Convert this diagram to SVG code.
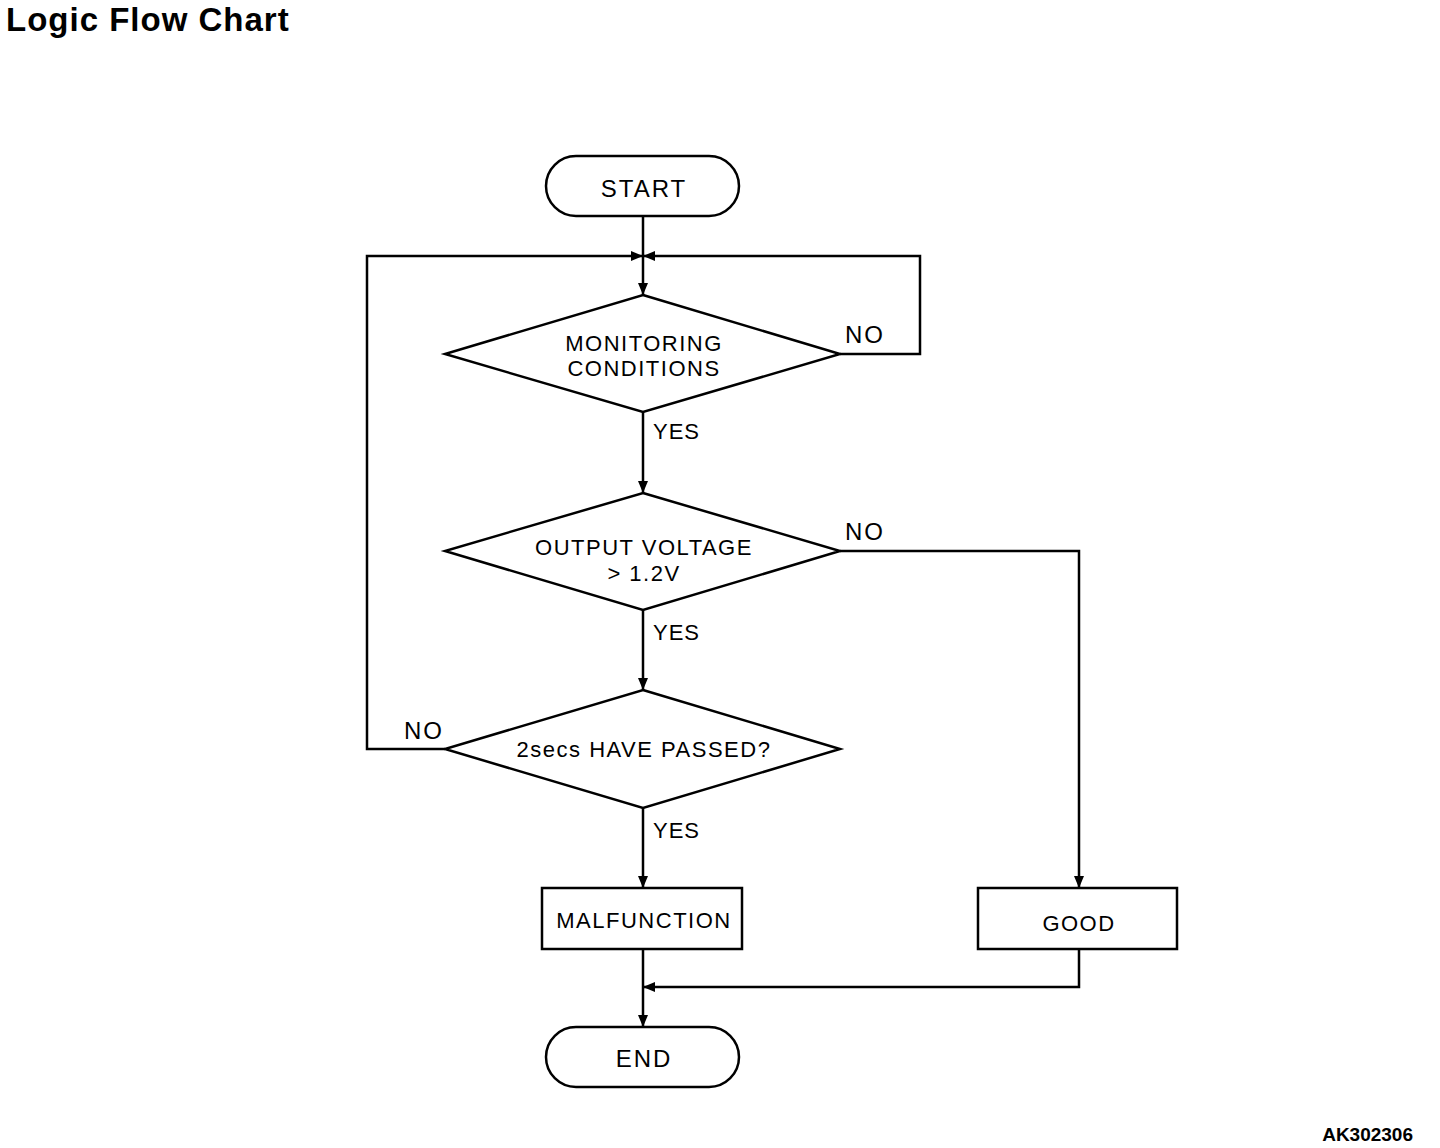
<svg xmlns="http://www.w3.org/2000/svg" width="1440" height="1148" viewBox="0 0 1440 1148">
<style>
.s{fill:#fff;stroke:#000;stroke-width:2.5}
.c{fill:none;stroke:#000;stroke-width:2.5}
text{font-family:"Liberation Sans",Arial,sans-serif;fill:#000}
.t{font-size:24px;letter-spacing:2px;text-anchor:middle}
.d{font-size:22px;letter-spacing:1.5px;text-anchor:middle}
.y{font-size:22px;letter-spacing:1px}
.n{font-size:24px;letter-spacing:2px}
</style>
<defs>
<marker id="a" viewBox="0 0 12 10" refX="12" refY="5" markerWidth="12" markerHeight="10" markerUnits="userSpaceOnUse" orient="auto">
<path d="M0,0 L12,5 L0,10 Z" fill="#000"/>
</marker>
</defs>
<rect width="1440" height="1148" fill="#fff"/>
<text x="6" y="31" style="font-size:33px;font-weight:bold;letter-spacing:1px">Logic Flow Chart</text>
<text x="1413" y="1141" style="font-size:19px;font-weight:bold;text-anchor:end">AK302306</text>
<g id="connectors">
<path class="c" d="M643,216 V256"/>
<path class="c" d="M643,256 V295" marker-end="url(#a)"/>
<path class="c" d="M840,354 H920 V256 H643" marker-end="url(#a)"/>
<path class="c" d="M445,749 H367 V256 H643" marker-end="url(#a)"/>
<path class="c" d="M643,412 V493" marker-end="url(#a)"/>
<path class="c" d="M643,610 V690" marker-end="url(#a)"/>
<path class="c" d="M643,808 V888" marker-end="url(#a)"/>
<path class="c" d="M840,551 H1079 V888" marker-end="url(#a)"/>
<path class="c" d="M1079,949 V987 H643" marker-end="url(#a)"/>
<path class="c" d="M643,949 V1027" marker-end="url(#a)"/>
<text class="y" x="653" y="439">YES</text>
<text class="y" x="653" y="640">YES</text>
<text class="y" x="653" y="838">YES</text>
<text class="n" x="845" y="343">NO</text>
<text class="n" x="845" y="540">NO</text>
<text class="n" x="404" y="739">NO</text>
</g>
<g id="start">
<rect class="s" x="546" y="156" width="193" height="60" rx="30"/>
<text class="t" x="644" y="197">START</text>
</g>
<g id="monitoring">
<polygon class="s" points="643,295 840,354 643,412 445,354"/>
<text class="d" x="644" y="351">MONITORING</text>
<text class="d" x="644" y="376">CONDITIONS</text>
</g>
<g id="voltage">
<polygon class="s" points="643,493 840,551 643,610 445,551"/>
<text class="d" x="644" y="555">OUTPUT VOLTAGE</text>
<text class="d" x="644" y="581">&gt; 1.2V</text>
</g>
<g id="passed">
<polygon class="s" points="643,690 840,749 643,808 445,749"/>
<text class="d" x="644" y="757">2secs HAVE PASSED?</text>
</g>
<g id="malfunction">
<rect class="s" x="542" y="888" width="200" height="61"/>
<text class="d" x="644" y="928">MALFUNCTION</text>
</g>
<g id="good">
<rect class="s" x="978" y="888" width="199" height="61"/>
<text class="d" x="1079" y="931">GOOD</text>
</g>
<g id="end">
<rect class="s" x="546" y="1027" width="193" height="60" rx="30"/>
<text class="t" x="644" y="1067">END</text>
</g>
</svg>
